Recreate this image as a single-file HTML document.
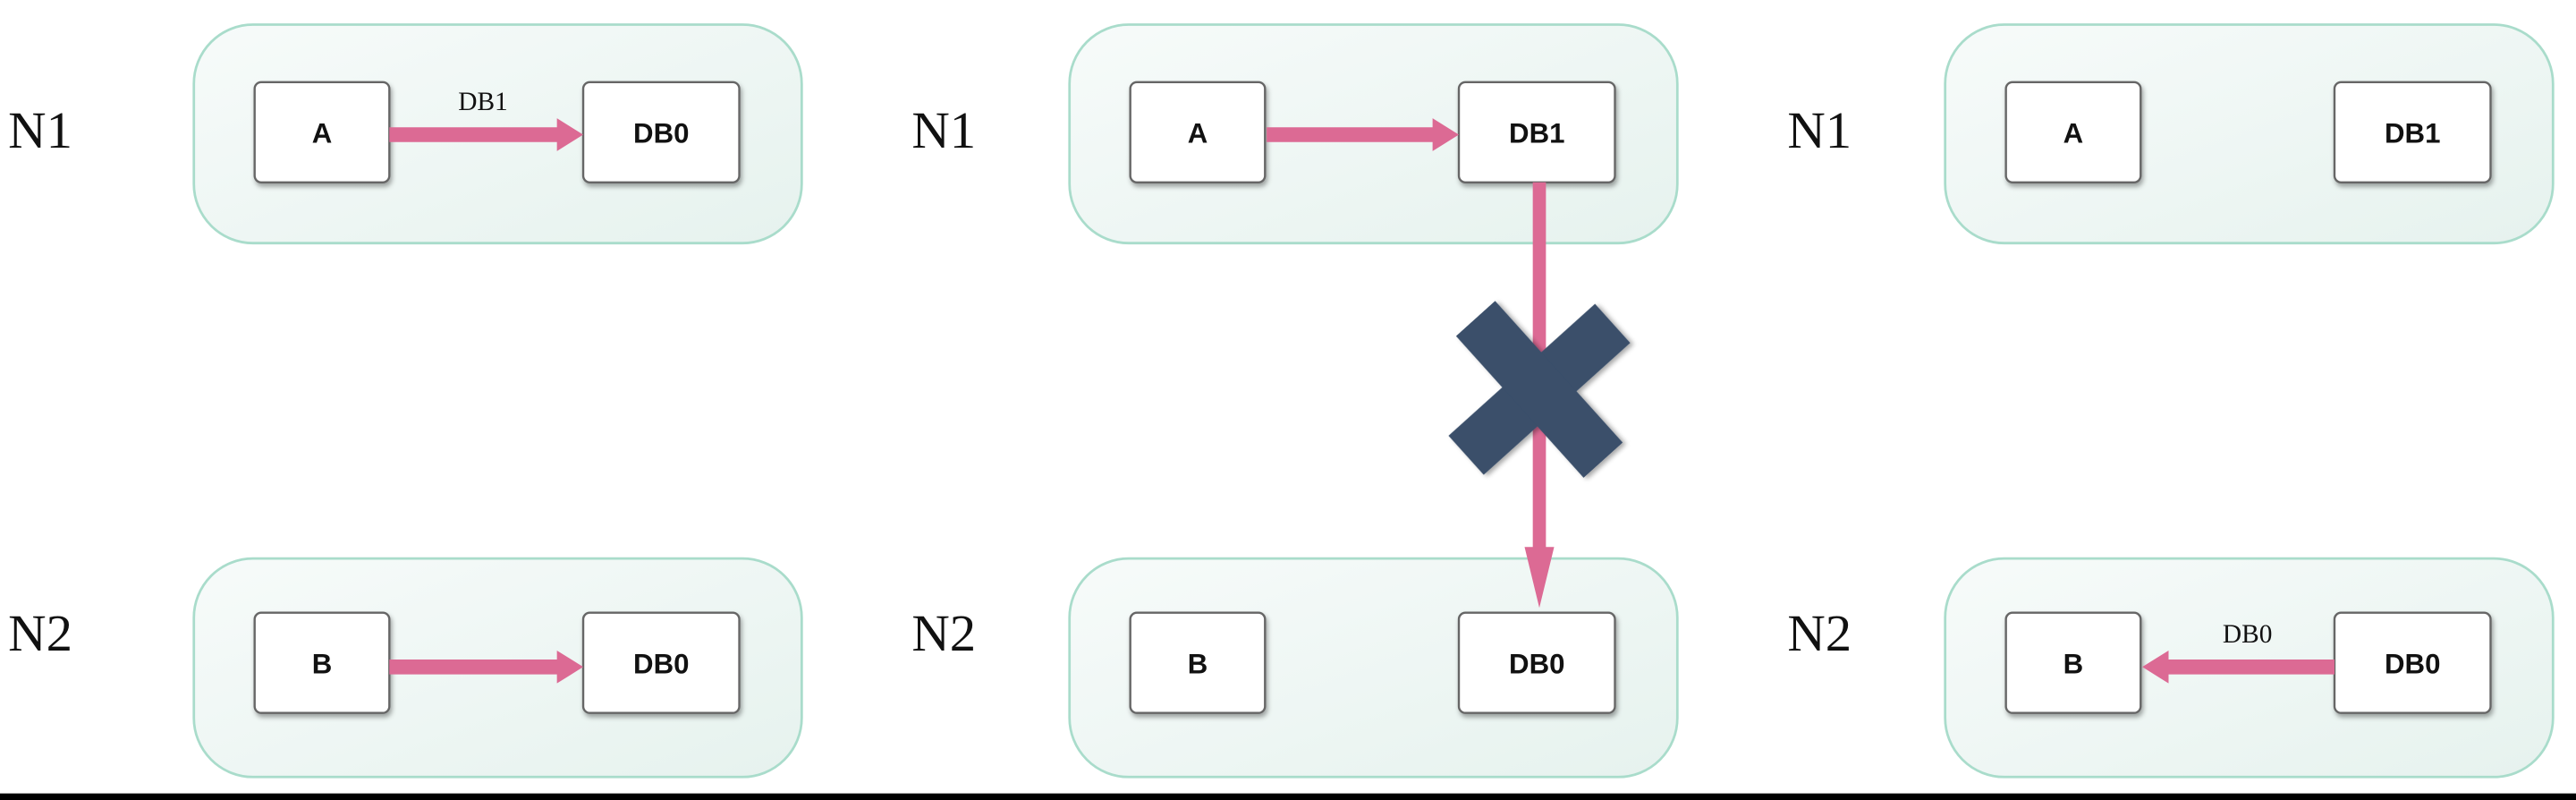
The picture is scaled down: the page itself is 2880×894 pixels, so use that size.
<!DOCTYPE html>
<html><head><meta charset="utf-8"><style>
html,body{margin:0;padding:0;background:#fff;}
svg{display:block;}
.lbl{font-family:"Liberation Serif",serif;font-size:32px;fill:#111;}
.bx{font-family:"Liberation Sans",sans-serif;font-weight:bold;font-size:17px;fill:#111;text-anchor:middle;}
.sm{font-family:"Liberation Serif",serif;font-size:16px;fill:#111;text-anchor:middle;}
</style></head><body>
<svg width="2880" height="894" viewBox="0 0 1568 487" preserveAspectRatio="none">
<defs>
<linearGradient id="g" x1="0" y1="0" x2="1" y2="1"><stop offset="0" stop-color="#f7fbfa"/><stop offset="1" stop-color="#e6f2ee"/></linearGradient>
<filter id="sh"><feDropShadow dx="1" dy="2" stdDeviation="1.5" flood-opacity="0.35"/></filter>
</defs>
<g id="root"></g>
<rect x="0" y="483" width="1568" height="4" fill="#000"/>
</svg>
<script>
const NS='http://www.w3.org/2000/svg';
const root=document.getElementById('root');
function mk(tag,a,parent,txt){const e=document.createElementNS(NS,tag);for(const k in a)e.setAttribute(k,a[k]);if(txt!==undefined)e.textContent=txt;(parent||root).appendChild(e);return e;}
const offsets=[0,533,1066];
const labelX=[5,555,1088];
const topRight=['DB0','DB1','DB1'];
const bottomRight=['DB0','DB0','DB0'];
offsets.forEach((dx,i)=>{
  const g=mk('g',{});
  
  
  let t=mk('text',{x:labelX[i],y:90,class:'lbl'},g,'N1');
  
  t=mk('text',{x:labelX[i],y:396,class:'lbl'},g,'N2');
  
  [15,340].forEach((y,j)=>{
    const c=mk('rect',{x:118+dx,y:y,width:370,height:133,rx:36,fill:'url(#g)',stroke:'#a9dccb','stroke-width':1.5},g);
    
    
    const by=j?373:50;
    const names=j?['B',bottomRight[i]]:['A',topRight[i]];
    [[155,82],[355,95]].forEach((b,k)=>{
      const r=mk('rect',{x:b[0]+dx,y:by,width:b[1],height:61,rx:4,fill:'#fff',stroke:'#666','stroke-width':1.3,filter:'url(#sh)'},g);
      
      
      const tx=mk('text',{x:b[0]+dx+b[1]/2,y:by+37,class:'bx'},g,names[k]);
      
      
    });
  });
});
const pink='#dc6a94';
function harrow(x1,x2,y,name){
  const dir=x2>x1?1:-1;
  const p=mk('path',{d:`M${x1} ${y-4.5}L${x2-dir*16} ${y-4.5}L${x2-dir*16} ${y-10}L${x2} ${y}L${x2-dir*16} ${y+10}L${x2-dir*16} ${y+4.5}L${x1} ${y+4.5}Z`,fill:pink});
  
}
harrow(237,355,82,'arrow-a-db0');
harrow(237,355,406,'arrow-b-db0');
harrow(771,888,82,'arrow-a-db1');
harrow(1421,1304,406,'arrow-db0-b');
let t=mk('text',{x:294,y:67,class:'sm'},root,'DB1');

t=mk('text',{x:1368,y:391,class:'sm'},root,'DB0');

const v=mk('path',{d:'M933 111L941 111L941 333L946 333L937 370L928 333L933 333Z',fill:pink});

const x=mk('g',{transform:'translate(937,237) rotate(-42)',filter:'url(#sh)'});

mk('rect',{x:-60,y:-16,width:120,height:32,fill:'#3a4f6b'},x);
mk('rect',{x:-16,y:-58,width:32,height:116,fill:'#3a4f6b'},x);
</script>
</body></html>
